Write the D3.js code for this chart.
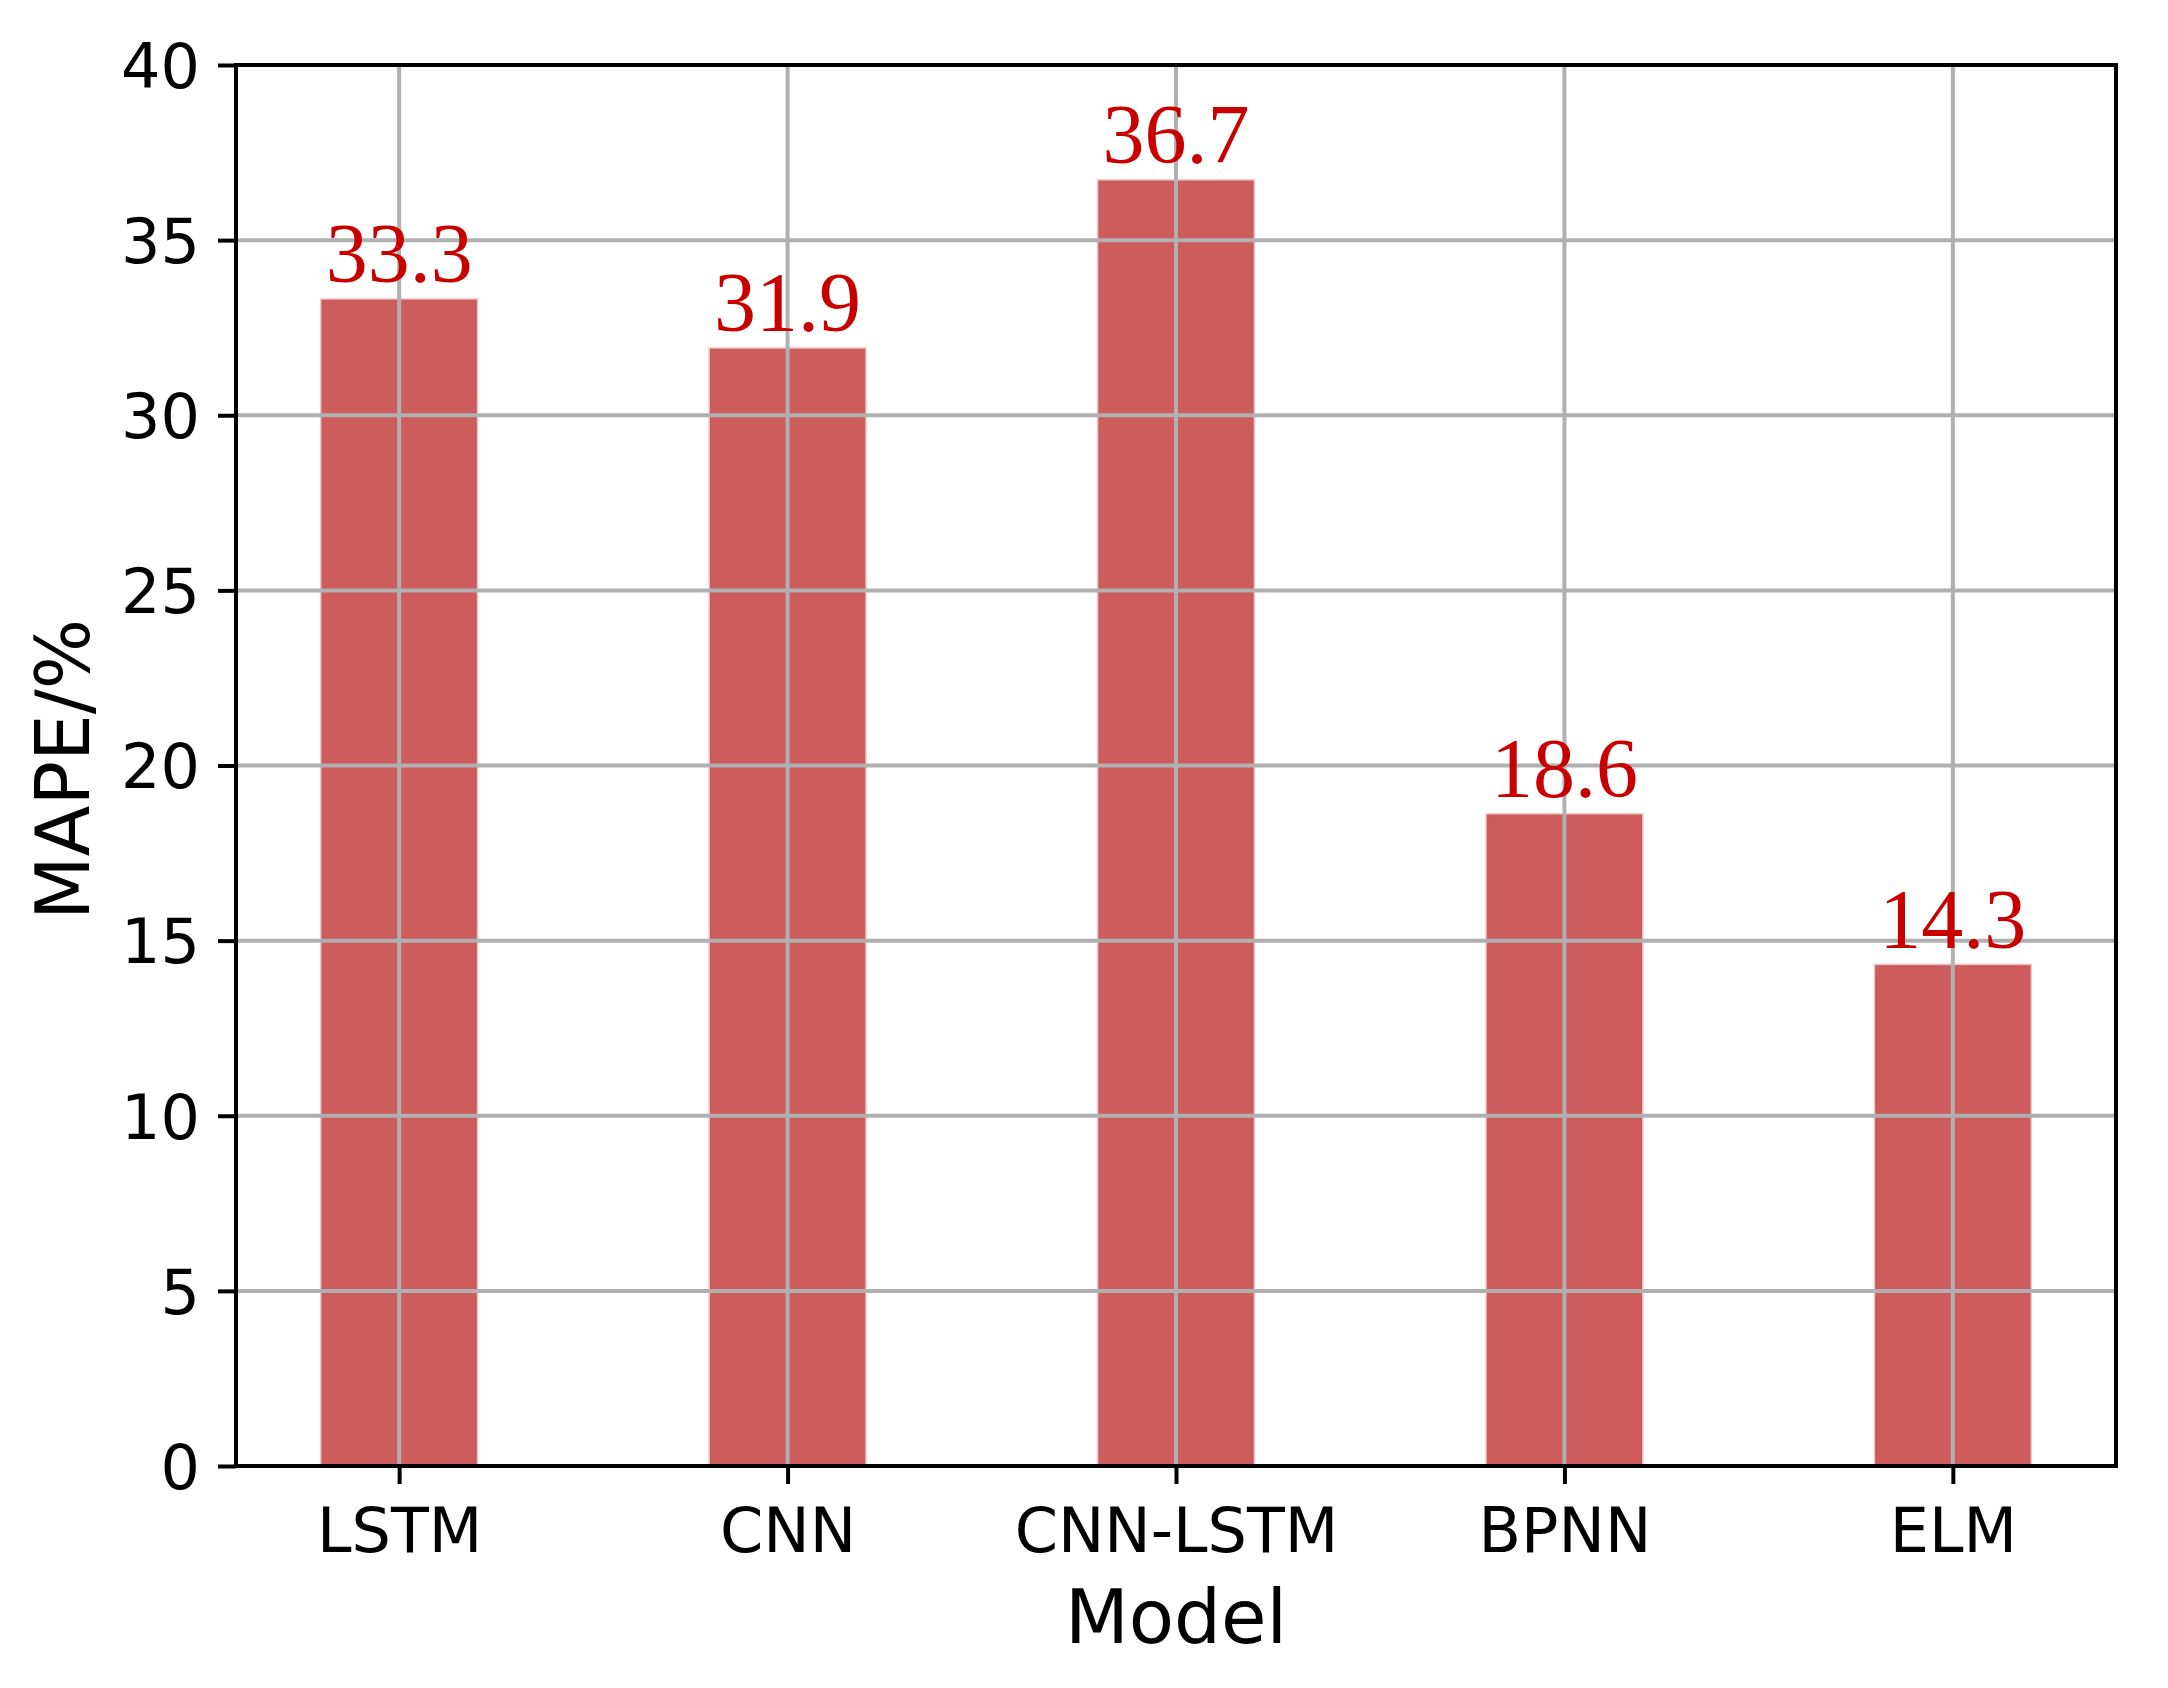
<!DOCTYPE html>
<html lang="en">
<head>
  <meta charset="utf-8">
  <title>MAPE by model</title>
  <script src="https://cdn.jsdelivr.net/npm/d3@7"></script>
  <style>
    body { margin: 0; background: #fff; }
    .tick text { font-family: "DejaVu Sans", sans-serif; font-size: 62px; fill: #000; }
    .axisTitle { font-family: "DejaVu Sans", sans-serif; font-size: 74px; fill: #000; }
    .barLabel { font-family: "Liberation Serif", "Times New Roman", serif; font-size: 84px; fill: #c80000; text-anchor: middle; }
  </style>
</head>
<body>
<script>
  // data
  var models = ["LSTM", "CNN", "CNN-LSTM", "BPNN", "ELM"];
  var mape = [33.3, 31.9, 36.7, 18.6, 14.3];
  var yTicks = [0, 5, 10, 15, 20, 25, 30, 35, 40];

  var W = 2168, H = 1688;
  // plot box (window.top is read-only, so no "top" here)
  var padL = 236, padR = 2116, padT = 65, padB = 1466;
  var barW = 0.4;

  var svg = d3.select("body").append("svg")
    .attr("width", W)
    .attr("height", H);

  // matplotlib style x limits: bars at 0..4, width 0.4, 5% margin
  var x = d3.scaleLinear()
    .domain([-0.42, 4.42])
    .range([padL, padR]);

  var y = d3.scaleLinear()
    .domain([0, 40])
    .range([padB, padT]);

  // bars
  svg.append("g").selectAll("rect")
    .data(mape)
    .enter().append("rect")
    .attr("x", function (d, i) { return x(i - barW / 2); })
    .attr("width", function () { return x(barW) - x(0); })
    .attr("y", function (d) { return y(d); })
    .attr("height", function (d) { return y(0) - y(d); })
    .attr("fill", "#cd5c5c")
    .attr("stroke", "rgba(205,92,92,0.35)")
    .attr("stroke-width", 3);

  // grid (drawn over bars, like matplotlib default)
  var grid = svg.append("g").attr("class", "grid");
  grid.selectAll(".h")
    .data(yTicks)
    .enter().append("line")
    .attr("x1", padL).attr("x2", padR)
    .attr("y1", function (d) { return y(d); })
    .attr("y2", function (d) { return y(d); })
    .attr("stroke", "#b0b0b0")
    .attr("stroke-width", 4);
  grid.selectAll(".v")
    .data(models)
    .enter().append("line")
    .attr("x1", function (d, i) { return x(i); })
    .attr("x2", function (d, i) { return x(i); })
    .attr("y1", padT).attr("y2", padB)
    .attr("stroke", "#b0b0b0")
    .attr("stroke-width", 4);

  // axes
  var yAxis = svg.append("g")
    .attr("transform", "translate(" + padL + ",0)")
    .call(d3.axisLeft(y).tickValues(yTicks).tickSize(18).tickPadding(18).tickFormat(d3.format("d")));
  yAxis.select(".domain").remove();
  yAxis.selectAll(".tick line").attr("stroke", "#000").attr("stroke-width", 4);
  yAxis.selectAll(".tick text").attr("dy", "0.36em");

  var xAxis = svg.append("g")
    .attr("transform", "translate(0," + padB + ")")
    .call(d3.axisBottom(x).tickValues(d3.range(models.length)).tickSize(18).tickPadding(24)
      .tickFormat(function (i) { return models[i]; }));
  xAxis.select(".domain").remove();
  xAxis.selectAll(".tick line").attr("stroke", "#000").attr("stroke-width", 4);
  xAxis.attr("font-family", null).attr("font-size", null);
  yAxis.attr("font-family", null).attr("font-size", null);

  // spines
  svg.append("rect")
    .attr("x", padL).attr("y", padT)
    .attr("width", padR - padL).attr("height", padB - padT)
    .attr("fill", "none")
    .attr("stroke", "#000")
    .attr("stroke-width", 4);

  // value labels
  svg.append("g").selectAll("text")
    .data(mape)
    .enter().append("text")
    .attr("class", "barLabel")
    .attr("x", function (d, i) { return x(i); })
    .attr("y", function (d) { return y(d + 0.5); })
    .text(function (d) { return d.toFixed(1); });

  // axis titles
  svg.append("text")
    .attr("class", "axisTitle")
    .attr("text-anchor", "middle")
    .attr("x", (padL + padR) / 2)
    .attr("y", 1643)
    .text("Model");

  svg.append("text")
    .attr("class", "axisTitle")
    .attr("text-anchor", "middle")
    .attr("transform", "translate(89," + ((padT + padB) / 2 + 4) + ") rotate(-90)")
    .text("MAPE/%");
</script>
</body>
</html>
